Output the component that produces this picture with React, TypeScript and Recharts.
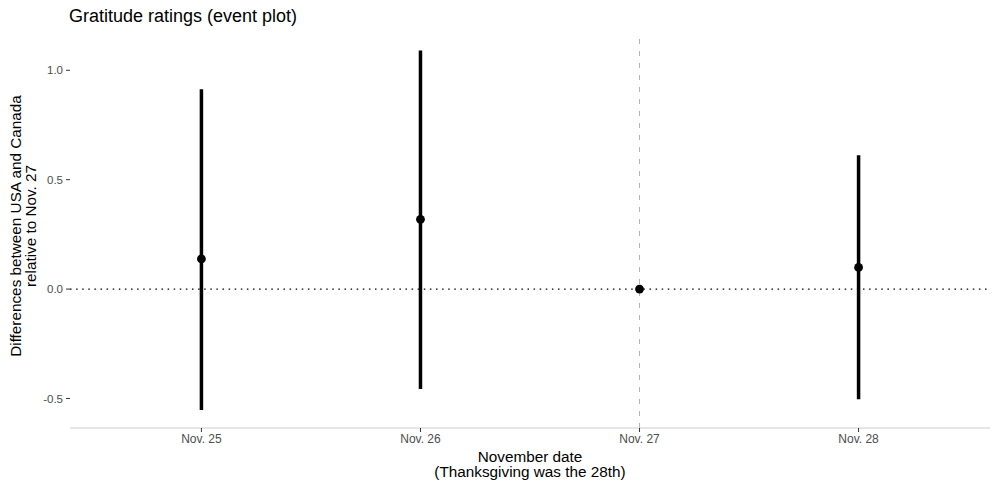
import {
  ScatterChart,
  Scatter,
  XAxis,
  YAxis,
  ErrorBar,
  ReferenceLine,
  Label,
} from "recharts";

const dates = ["Nov. 25", "Nov. 26", "Nov. 27", "Nov. 28"];
const estimates = [0.138, 0.319, 0, 0.099];
const lowers = [-0.553, -0.457, 0, -0.504];
const uppers = [0.913, 1.091, 0, 0.612];
const yTicks = [-0.5, 0, 0.5, 1.0];

const data = dates.map((d, i) => ({
  x: i + 1,
  y: estimates[i],
  err: [estimates[i] - lowers[i], uppers[i] - estimates[i]],
}));

const FONT = "'Liberation Sans', Arial, Helvetica, sans-serif";

const Dot = (props: any) => {
  const { cx, cy } = props;
  return <circle cx={cx} cy={cy} r={4.4} fill="#000" />;
};

const App = () => {
  return (
    <div style={{ position: "absolute", left: 0, top: 0, width: 1000, height: 489, background: "#fff" }}>
      <ScatterChart
        width={1000}
        height={489}
        margin={{ top: 32, right: 10, bottom: 31, left: 0 }}
        style={{ fontFamily: FONT }}
      >
        <text x={69} y={22} fontSize={18} fill="#000" fontFamily={FONT}>
          Gratitude ratings (event plot)
        </text>
        <XAxis
          type="number"
          dataKey="x"
          domain={[0.4, 4.6]}
          ticks={[1, 2, 3, 4]}
          tickFormatter={(v: number) => dates[v - 1]}
          height={30}
          tickSize={4}
          tickMargin={2}
          axisLine={{ stroke: "#cccccc", strokeWidth: 1 }}
          tickLine={{ stroke: "#333333" }}
          tick={{ fill: "#4d4d4d", fontSize: 12 }}
          allowDataOverflow
        >
          <Label
            content={(p: any) => {
              const vb = p.viewBox;
              const cx = vb.x + vb.width / 2;
              return (
                <text textAnchor="middle" fontSize={15.3} fill="#000" fontFamily={FONT}>
                  <tspan x={cx} y={462}>November date</tspan>
                  <tspan x={cx} y={477}>(Thanksgiving was the 28th)</tspan>
                </text>
              );
            }}
          />
        </XAxis>
        <YAxis
          type="number"
          dataKey="y"
          domain={[-0.635, 1.175]}
          ticks={yTicks}
          tickFormatter={(v: number) => v.toFixed(1)}
          width={70}
          tickSize={4}
          tickMargin={3}
          axisLine={false}
          tickLine={{ stroke: "#333333" }}
          tick={{ fill: "#4d4d4d", fontSize: 11.5 }}
          allowDataOverflow
        >
          <Label
            content={(p: any) => {
              const vb = p.viewBox;
              const cy = vb.y + vb.height / 2;
              return (
                <text
                  textAnchor="middle"
                  fontSize={15.3}
                  fill="#000"
                  fontFamily={FONT}
                  transform="rotate(-90)"
                >
                  <tspan x={-cy + 4} y={21}>Differences between USA and Canada</tspan>
                  <tspan x={-cy + 4} y={36}>relative to Nov. 27</tspan>
                </text>
              );
            }}
          />
        </YAxis>
        <ReferenceLine x={3} stroke="#b3b3b3" strokeWidth={1} strokeDasharray="5 7" />
        <ReferenceLine y={0} stroke="#000" strokeWidth={1.3} strokeDasharray="1.5 4.6" />
        <Scatter data={data} shape={<Dot />} isAnimationActive={false}>
          <ErrorBar dataKey="err" direction="y" width={0} stroke="#000" strokeWidth={3.5} />
        </Scatter>
      </ScatterChart>
    </div>
  );
};

export default App;
